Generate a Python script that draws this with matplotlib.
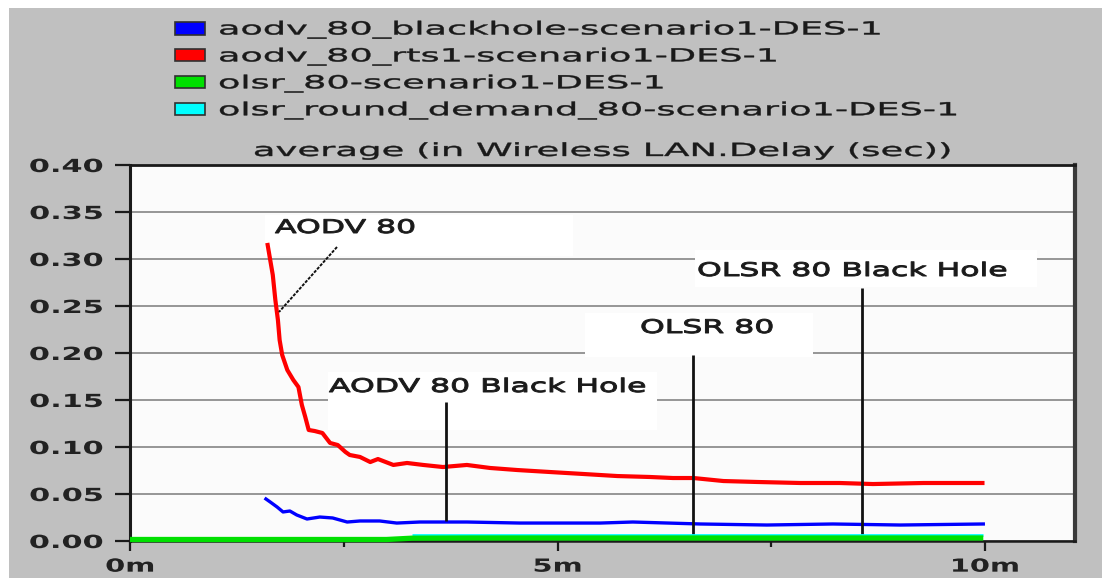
import matplotlib
matplotlib.use("Agg")
import matplotlib.pyplot as plt
from matplotlib.patches import Rectangle, Patch
from matplotlib.patheffects import AbstractPathEffect
from matplotlib.path import Path
from matplotlib.transforms import Affine2D

# ---------------- data ----------------
series_labels = [
    "aodv_80_blackhole-scenario1-DES-1",
    "aodv_80_rts1-scenario1-DES-1",
    "olsr_80-scenario1-DES-1",
    "olsr_round_demand_80-scenario1-DES-1",
]
series_colors = ["#0000ff", "#ff0000", "#00e000", "#00ffff"]

# aodv_80_blackhole (blue)
blackhole_t = [1.59, 1.64, 1.72, 1.79, 1.87, 1.95, 2.07, 2.22, 2.37, 2.54, 2.69,
               2.92, 3.12, 3.39, 3.71, 3.94, 4.56, 5.50, 5.88, 6.67, 7.45, 8.22,
               9.01, 9.98]
blackhole_delay = [0.0447, 0.0415, 0.0362, 0.0309, 0.0319, 0.0277, 0.0234, 0.0255,
                   0.0245, 0.0202, 0.0213, 0.0213, 0.0191, 0.0202, 0.0202, 0.0202,
                   0.0191, 0.0191, 0.0202, 0.0181, 0.0170, 0.0181, 0.0170, 0.0181]

# aodv_80_rts1 (red)
rts_t = [1.61, 1.64, 1.67, 1.70, 1.73, 1.75, 1.78, 1.84, 1.91, 1.97, 2.01, 2.05,
         2.09, 2.16, 2.25, 2.34, 2.43, 2.52, 2.57, 2.69, 2.81, 2.90, 3.08, 3.24,
         3.43, 3.66, 3.94, 4.21, 4.53, 4.91, 5.30, 5.70, 6.08, 6.35, 6.59, 6.94,
         7.33, 7.84, 8.30, 8.69, 9.28, 9.97]
rts_delay = [0.3149, 0.2989, 0.2830, 0.2564, 0.2351, 0.2138, 0.1979, 0.1819,
             0.1713, 0.1638, 0.1447, 0.1319, 0.1181, 0.1170, 0.1149, 0.1043,
             0.1021, 0.0947, 0.0915, 0.0894, 0.0840, 0.0872, 0.0809, 0.0830,
             0.0809, 0.0787, 0.0809, 0.0777, 0.0755, 0.0734, 0.0713, 0.0691,
             0.0681, 0.0670, 0.0670, 0.0638, 0.0628, 0.0617, 0.0617, 0.0606,
             0.0617, 0.0617]

# olsr_80 (green)
olsr_t = [0.0, 1.0, 2.0, 3.0, 3.3, 4.0, 5.0, 6.0, 7.0, 8.0, 9.0, 9.98]
olsr_delay = [0.0016, 0.0016, 0.0016, 0.0016, 0.0030, 0.0032, 0.0032, 0.0032,
              0.0032, 0.0032, 0.0032, 0.0032]

# olsr_round_demand_80 (cyan)
demand_t = [3.3, 4.0, 5.0, 6.0, 7.0, 8.0, 9.0, 9.98]
demand_delay = [0.0062, 0.0062, 0.0062, 0.0062, 0.0062, 0.0062, 0.0062, 0.0062]

y_ticks = [0.00, 0.05, 0.10, 0.15, 0.20, 0.25, 0.30, 0.35, 0.40]
y_ticklabels = ["0.00", "0.05", "0.10", "0.15", "0.20", "0.25", "0.30", "0.35", "0.40"]
x_ticks = [0, 5, 10]
x_ticklabels = ["0m", "5m", "10m"]
x_minor_ticks = [2.5, 7.5]

title_text = "average (in Wireless LAN.Delay (sec))"
annotation_labels = ["AODV 80", "AODV 80 Black Hole", "OLSR 80", "OLSR 80 Black Hole"]


# ---------------- helpers ----------------
class HStretch(AbstractPathEffect):
    """Draw text glyphs horizontally widened (the reference font is very wide),
    optionally with a thin outline to thicken the strokes a little."""

    def __init__(self, sx, anchor="left", stroke=0.0):
        super().__init__((0, 0))
        self.sx = sx
        self.anchor = anchor
        self.stroke = stroke

    def draw_path(self, renderer, gc, tpath, affine, rgbFace=None):
        v = tpath.vertices
        if tpath.codes is not None:
            v = v[tpath.codes != Path.CLOSEPOLY]
        xs = v[:, 0] if len(v) else [0.0]
        if self.anchor == "left":
            x0 = 0.0
        elif self.anchor == "right":
            x0 = max(xs)
        else:
            x0 = 0.5 * (min(xs) + max(xs))
        t = Affine2D().translate(-x0, 0).scale(self.sx, 1.0).translate(x0, 0) + affine
        if self.stroke > 0:
            gc0 = renderer.new_gc()
            gc0.copy_properties(gc)
            gc0.set_linewidth(self.stroke)
            gc0.set_foreground(rgbFace)
            renderer.draw_path(gc0, tpath, t, rgbFace)
            gc0.restore()
        else:
            renderer.draw_path(gc, tpath, t, rgbFace)


W, H = 1102, 578
fig = plt.figure(figsize=(W / 100, H / 100), dpi=100)
fig.patch.set_facecolor("white")
fig.add_artist(Rectangle((9 / W, 0), 1, 1 - 8 / H, transform=fig.transFigure,
                         facecolor="#c0c0c0", edgecolor="none", zorder=-10))

ax = fig.add_axes([130 / W, 1 - 541 / H, 945 / W, 376 / H])
ax.set_facecolor("#fbfbfb")
ax.set_xlim(0, 945 / 85.5)
ax.set_ylim(0, 0.40)
ax.set_axisbelow(True)
ax.yaxis.grid(True, color="#8e8e8e", linewidth=1.3)
ax.xaxis.grid(False)

for name, lw, col in [("left", 2.2, "#1a1a1a"), ("top", 2.0, "#1a1a1a"),
                      ("bottom", 1.8, "#1a1a1a"), ("right", 3.0, "#3a3a3a")]:
    ax.spines[name].set_linewidth(lw)
    ax.spines[name].set_color(col)


def px2data(px, py):
    return (px - 130) / 85.5, (541 - py) / 940.0


# annotation background boxes (white label panels)
box_px = [(265, 215, 573, 256), (328, 372, 657, 430), (585, 313, 813, 357), (695, 250, 1037, 287)]
for (x0p, y0p, x1p, y1p) in box_px:
    x0, y1 = px2data(x0p, y0p)
    x1, y0 = px2data(x1p, y1p)
    ax.add_patch(Rectangle((x0, y0), x1 - x0, y1 - y0, facecolor="white",
                           edgecolor="none", zorder=1))

# series
ax.plot(demand_t, demand_delay, color=series_colors[3], lw=2.0, zorder=2.6,
        solid_capstyle="butt", clip_on=False)
ax.plot(olsr_t, olsr_delay, color=series_colors[2], lw=3.8, zorder=2.7,
        solid_capstyle="butt", clip_on=False)
ax.plot(blackhole_t, blackhole_delay, color=series_colors[0], lw=2.4, zorder=2.2,
        solid_joinstyle="round")
ax.plot(rts_t, rts_delay, color=series_colors[1], lw=3.0, zorder=2.2,
        solid_joinstyle="round")

# leader lines
x_a0, y_a0 = px2data(337, 247)
x_a1, y_a1 = px2data(279, 312)
ax.plot([x_a0, x_a1], [y_a0, y_a1], color="#111111", lw=1.4,
        linestyle=(0, (1.6, 0.7)), zorder=2.4)
for (lx, ly0, ly1) in [(446, 402, 521), (693, 355, 538), (862, 288, 535)]:
    xa, ya = px2data(lx, ly0)
    _, yb = px2data(lx, ly1)
    ax.plot([xa, xa], [ya, yb], color="#111111", lw=2.0, zorder=2.4,
            solid_capstyle="butt")

# annotation texts (left x, baseline y in px)
ann_pos = [(275, 233), (329, 392), (640, 333), (697, 276)]
for lab, (px, py) in zip(annotation_labels, ann_pos):
    xd, yd = px2data(px, py)
    t = ax.text(xd, yd, lab, ha="left", va="baseline", fontsize=13.5,
                fontweight="normal", color="#1a1a1a", zorder=4)
    t.set_path_effects([HStretch(1.68, "left", stroke=0.7)])

# ticks
ax.set_yticks(y_ticks)
ax.set_yticklabels(y_ticklabels)
ax.set_xticks(x_ticks)
ax.set_xticklabels(x_ticklabels)
ax.set_xticks(x_minor_ticks, minor=True)
ax.tick_params(axis="y", which="major", direction="out", length=11, width=1.6,
               color="#1a1a1a", pad=8.5, labelsize=13, labelcolor="#222222")
ax.tick_params(axis="x", which="major", direction="out", length=7.5, width=1.6,
               color="#1a1a1a", pad=4.5, labelsize=13, labelcolor="#222222")
ax.tick_params(axis="x", which="minor", direction="out", length=4.5, width=1.6,
               color="#1a1a1a")
for lab in ax.get_yticklabels():
    lab.set_fontweight("bold")
    lab.set_path_effects([HStretch(1.68, "right")])
for lab in ax.get_xticklabels():
    lab.set_fontweight("bold")
    lab.set_path_effects([HStretch(1.6, "center")])

# title
ttl = ax.set_title(title_text, fontsize=13, color="#1a1a1a", pad=6.5)
ttl.set_path_effects([HStretch(2.05, "center", stroke=0.3)])

# legend
handles = [Patch(facecolor=c, edgecolor="#303030", linewidth=1.2) for c in series_colors]
leg = fig.legend(handles, series_labels, loc="upper left",
                 bbox_to_anchor=(175 / W, 1 - 20.5 / H), frameon=False,
                 borderpad=0, borderaxespad=0, handlelength=1.66, handleheight=0.7,
                 handletextpad=0.72, labelspacing=0.48, prop={"size": 13})
for txt in leg.get_texts():
    txt.set_color("#1a1a1a")
    txt.set_path_effects([HStretch(2.03, "left", stroke=0.3)])

fig.savefig("out.png", dpi=100, facecolor=fig.get_facecolor())
